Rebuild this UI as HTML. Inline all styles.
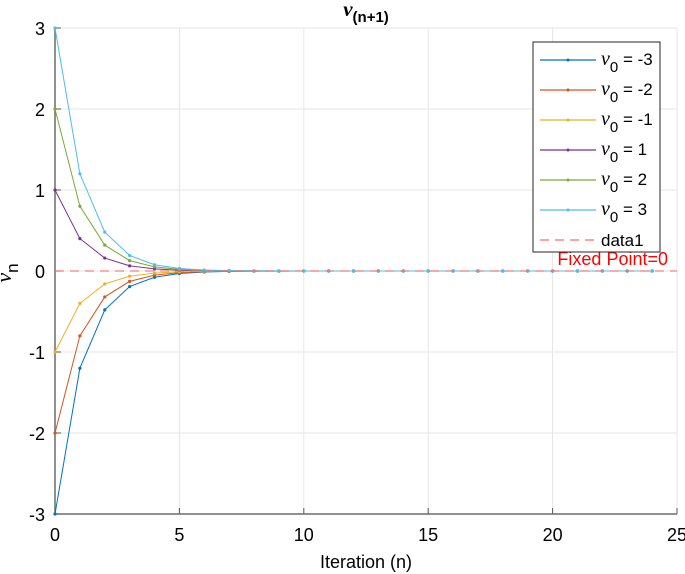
<!DOCTYPE html>
<html><head><meta charset="utf-8"><style>
body{margin:0;background:#fff;}
svg{display:block;font-family:"Liberation Sans",sans-serif;}
</style></head><body>
<svg id="chart" width="685" height="574">
<rect width="685" height="574" fill="#fff"/>
<g id="grid"></g>
<g id="axes"></g>
<g id="series"></g>
<text x="366" y="16" font-size="15" text-anchor="middle" font-weight="bold"><tspan font-family="Liberation Serif" font-style="italic" font-size="21">v</tspan><tspan dy="6" font-size="15">(n+1)</tspan></text>
<text x="366" y="568" font-size="18" text-anchor="middle">Iteration (n)</text>
<g transform="translate(11,273) rotate(-90)"><text x="0" y="0" font-size="18" text-anchor="middle"><tspan font-family="Liberation Serif" font-style="italic" font-size="22">v</tspan><tspan dy="7" font-size="17">n</tspan></text></g>
<text x="668" y="265" font-size="18" fill="#ff0000" text-anchor="end">Fixed Point=0</text>
<g id="legend"></g>
</svg>
<script>
const iterations=[0,1,2,3,4,5,6,7,8,9,10,11,12,13,14,15,16,17,18,19,20,21,22,23,24];
const seriesM3=[-3,-1.2,-0.48,-0.192,-0.077,-0.031,-0.012,-0.005,-0.002,-0.001,0,0,0,0,0,0,0,0,0,0,0,0,0,0,0];
const seriesM2=[-2,-0.8,-0.32,-0.128,-0.051,-0.02,-0.008,-0.003,-0.001,0,0,0,0,0,0,0,0,0,0,0,0,0,0,0,0];
const seriesM1=[-1,-0.4,-0.16,-0.064,-0.026,-0.01,-0.004,-0.002,-0.001,0,0,0,0,0,0,0,0,0,0,0,0,0,0,0,0];
const seriesP1=[1,0.4,0.16,0.064,0.026,0.01,0.004,0.002,0.001,0,0,0,0,0,0,0,0,0,0,0,0,0,0,0,0];
const seriesP2=[2,0.8,0.32,0.128,0.051,0.02,0.008,0.003,0.001,0,0,0,0,0,0,0,0,0,0,0,0,0,0,0,0];
const seriesP3=[3,1.2,0.48,0.192,0.077,0.031,0.012,0.005,0.002,0.001,0,0,0,0,0,0,0,0,0,0,0,0,0,0,0];
const seriesLabels=["-3","-2","-1","1","2","3"];
const xTicks=[0,5,10,15,20,25];
const yTicks=[-3,-2,-1,0,1,2,3];
const fixedPoint=0;
const colors=["#0072BD","#D95319","#EDB120","#7E2F8E","#77AC30","#4DBEEE"];
const allSeries=[seriesM3,seriesM2,seriesM1,seriesP1,seriesP2,seriesP3];
const X0=55,X1=677,Y0=514,Y1=28;
const xs=v=>X0+(v-0)/(25-0)*(X1-X0);
const ys=v=>Y0-(v+3)/6*(Y0-Y1);
const NS="http://www.w3.org/2000/svg";
function mk(tag,attrs,parent){const e=document.createElementNS(NS,tag);for(const k in attrs)e.setAttribute(k,attrs[k]);parent.appendChild(e);return e;}
const grid=document.getElementById('grid'),axes=document.getElementById('axes'),ser=document.getElementById('series'),leg=document.getElementById('legend');
xTicks.forEach(t=>{
 const l=mk('line',{x1:xs(t),x2:xs(t),y1:Y1,y2:Y0,stroke:'#e6e6e6','stroke-width':1},grid);
 
 
 const tx=mk('text',{x:xs(t),y:Y0+27,'font-size':18,'text-anchor':'middle'},axes);
 tx.textContent=t;
 
 
 const tk=mk('line',{x1:xs(t),x2:xs(t),y1:Y0,y2:Y0-6,stroke:'#555'},axes);
 
 
});
yTicks.forEach(t=>{
 const l=mk('line',{x1:X0,x2:X1,y1:ys(t),y2:ys(t),stroke:'#e6e6e6','stroke-width':1},grid);
 
 
 const tx=mk('text',{x:X0-10,y:ys(t)+7,'font-size':18,'text-anchor':'end'},axes);
 tx.textContent=t;
 
 
 const tk=mk('line',{x1:X0,x2:X0+6,y1:ys(t),y2:ys(t),stroke:'#555'},axes);
 
 
});
const ax1=mk('line',{x1:X0,x2:X0,y1:Y1,y2:Y0,stroke:'#6b6b6b','stroke-width':1.5},axes);


const ax2=mk('line',{x1:X0,x2:X1,y1:Y0,y2:Y0,stroke:'#6b6b6b','stroke-width':1.5},axes);


allSeries.forEach((s,i)=>{
 const g=mk('g',{},ser);
 
 
 const p=mk('polyline',{points:s.map((v,j)=>xs(iterations[j])+','+ys(v)).join(' '),fill:'none',stroke:colors[i],'stroke-width':1},g);
 
 
 s.forEach((v,j)=>{
  const c=mk('circle',{cx:xs(iterations[j]),cy:ys(v),r:1.6,fill:colors[i]},g);
  
  
 });
});
const fp=mk('line',{x1:X0,x2:X1,y1:ys(fixedPoint),y2:ys(fixedPoint),stroke:'#ff6b6b','stroke-width':1.3,'stroke-dasharray':'9,6','opacity':0.85},ser);


const lb=mk('rect',{x:533,y:42,width:127,height:210,fill:'#fff',stroke:'#262626','stroke-width':1},leg);


seriesLabels.forEach((lab,i)=>{
 const y=60+i*30;
 const g=mk('g',{},leg);
 
 
 mk('line',{x1:540,x2:596,y1:y,y2:y,stroke:colors[i],'stroke-width':1.2},g);
 mk('circle',{cx:568,cy:y,r:1.5,fill:colors[i]},g);
 const t=mk('text',{x:601,y:y+5,'font-size':17},g);
 t.innerHTML='<tspan font-family="Liberation Serif" font-style="italic" font-size="20">v</tspan><tspan dy="7" font-size="15">0</tspan><tspan dy="-7"> = '+lab+'</tspan>';
});
const g7=mk('g',{},leg);


mk('line',{x1:540,x2:596,y1:240,y2:240,stroke:'#ff6b6b','stroke-width':1.2,'stroke-dasharray':'9,6'},g7);
const t7=mk('text',{x:601,y:246,'font-size':17},g7);t7.textContent='data1';
</script>
</body></html>
